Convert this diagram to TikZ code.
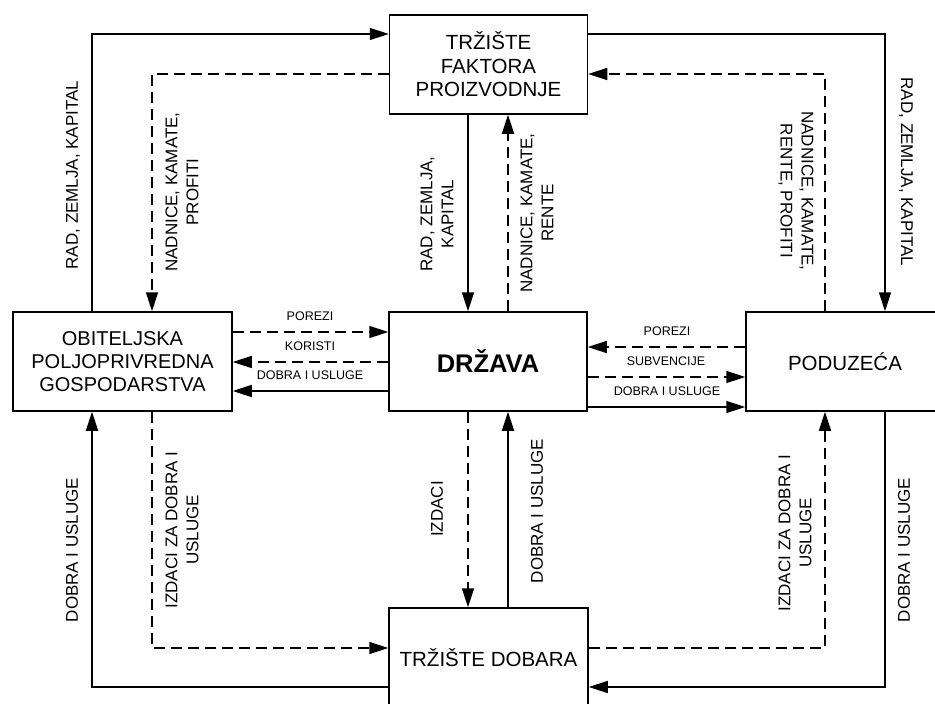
\documentclass[tikz,border=0pt]{standalone}
\usepackage{fontspec}
\setmainfont{Liberation Sans}
\usetikzlibrary{arrows.meta}

\begin{document}
\begin{tikzpicture}[x=1pt,y=-1pt,line width=1.5pt,
  >={Triangle[length=19pt,width=12pt]},
  blok/.style={draw,align=center,inner sep=0pt,minimum width=198pt,minimum height=99pt,
    font=\fontsize{20.5}{23.5}\selectfont},
  crt/.style={dash pattern=on 11pt off 6pt},
  oznaka/.style={align=center,inner sep=0pt,font=\fontsize{17}{21}\selectfont},
  mala/.style={inner sep=0pt,font=\fontsize{12.5}{14}\selectfont}]

  \useasboundingbox (0,0) rectangle (935,704);

  \node[blok] (tfp) at (488.5,64.5) {TRŽIŠTE\\FAKTORA\\PROIZVODNJE};
  \node[blok,font=\fontsize{25.5}{30}\selectfont\bfseries] (drzava) at (488,361.5) {DRŽAVA};
  \node[blok,minimum width=219pt,font=\fontsize{20}{23}\selectfont] (obitelj) at (122.5,361.5)
    {OBITELJSKA\\POLJOPRIVREDNA\\GOSPODARSTVA};
  \node[blok] (poduzeca) at (845,361.5) {PODUZEĆA};
  \node[blok,minimum width=199pt] (td) at (488.5,657.5) {TRŽIŠTE DOBARA};

  \coordinate (k1) at (92,34);
  \coordinate (k2) at (152,74);
  \coordinate (k3) at (825,74);
  \coordinate (k4) at (885,34);
  \coordinate (k5) at (152,648);
  \coordinate (k6) at (92,687);
  \coordinate (k7) at (825,648);
  \coordinate (k8) at (885,687);
  \draw[->] (obitelj.north -| k1) |- (tfp.west |- k1);
  \draw[->,crt] (tfp.west |- k2) -| (obitelj.north -| k2);
  \draw[->,crt] (poduzeca.north -| k3) |- (tfp.east |- k3);
  \draw[->] (tfp.east |- k4) -| (poduzeca.north -| k4);
  \draw[->,crt] (obitelj.south -| k5) |- (td.west |- k5);
  \draw[->] (td.west |- k6) -| (obitelj.south -| k6);
  \draw[->,crt] (td.east |- k7) -| (poduzeca.south -| k7);
  \draw[->] (poduzeca.south -| k8) |- (td.east |- k8);

  \coordinate (s1) at (468,0);
  \coordinate (s2) at (508,0);
  \draw[->] (tfp.south -| s1) -- (drzava.north -| s1);
  \draw[->,crt] (drzava.north -| s2) -- (tfp.south -| s2);
  \draw[->,crt] (drzava.south -| s1) -- (td.north -| s1);
  \draw[->] (td.north -| s2) -- (drzava.south -| s2);

  \coordinate (r1) at (0,332);
  \coordinate (r2) at (0,362);
  \coordinate (r3) at (0,391);
  \coordinate (r4) at (0,347);
  \coordinate (r5) at (0,377);
  \coordinate (r6) at (0,407);
  \draw[->,crt] (obitelj.east |- r1) -- (drzava.west |- r1);
  \draw[->,crt] (drzava.west |- r2) -- (obitelj.east |- r2);
  \draw[->] (drzava.west |- r3) -- (obitelj.east |- r3);
  \draw[->,crt] (poduzeca.west |- r4) -- (drzava.east |- r4);
  \draw[->,crt] (drzava.east |- r5) -- (poduzeca.west |- r5);
  \draw[->] (drzava.east |- r6) -- (poduzeca.west |- r6);

  \node[mala] (porezi1) at (310,316) {POREZI};
  \node[mala] (koristi) at (310,346.5) {KORISTI};
  \node[mala] (dobra1) at (310,375.5) {DOBRA I USLUGE};
  \node[mala] (porezi2) at (667,331) {POREZI};
  \node[mala] (subvencije) at (666,361) {SUBVENCIJE};
  \node[mala] (dobra2) at (667,391) {DOBRA I USLUGE};

  \node[oznaka,rotate=90] (rad1) at (73,175) {RAD, ZEMLJA, KAPITAL};
  \node[oznaka,rotate=90] (nadnice1) at (182,192) {NADNICE, KAMATE,\\PROFITI};
  \node[oznaka,rotate=90] (rad2) at (437,214) {RAD, ZEMLJA,\\KAPITAL};
  \node[oznaka,rotate=90] (nadnice2) at (537,213) {NADNICE, KAMATE,\\RENTE};
  \node[oznaka,rotate=-90] (nadnice3) at (796,191) {NADNICE, KAMATE,\\RENTE, PROFITI};
  \node[oznaka,rotate=-90] (rad3) at (906,172) {RAD, ZEMLJA, KAPITAL};

  \node[oznaka,rotate=90] (dobra3) at (72,550) {DOBRA I USLUGE};
  \node[oznaka,rotate=90] (izdaci1) at (182,530) {IZDACI ZA DOBRA I\\USLUGE};
  \node[oznaka,rotate=90] (izdaci2) at (437,509) {IZDACI};
  \node[oznaka,rotate=90] (dobra4) at (537,511) {DOBRA I USLUGE};
  \node[oznaka,rotate=90] (izdaci3) at (795,533) {IZDACI ZA DOBRA I\\USLUGE};
  \node[oznaka,rotate=90] (dobra5) at (904,550) {DOBRA I USLUGE};

\end{tikzpicture}
\end{document}
